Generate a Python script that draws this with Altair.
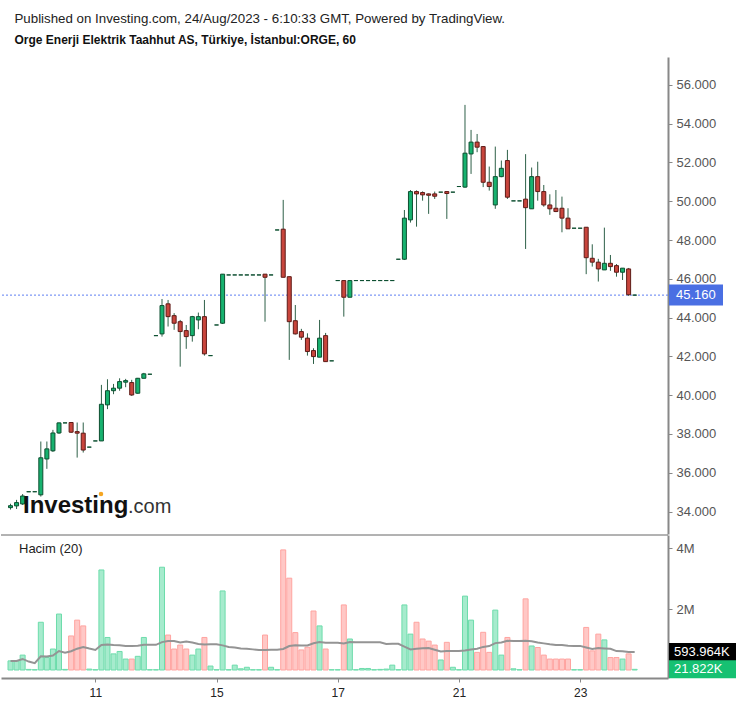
import altair as alt
import pandas as pd

# ---------------- data ----------------
opens = [34.20, 34.29, 34.39, 35.02,
         35.02, 34.86, 36.71, 37.13, 38.05, 38.57, 38.59, 38.12, 38.04, 37.32,
         37.64, 37.64, 39.50, 40.23, 40.36, 40.67, 40.65, 40.10, 40.87, 41.08,
         43.07, 43.16, 44.71, 44.10, 43.79, 43.33, 43.07, 43.88, 44.05, 42.04,
         43.62, 43.71, 46.20, 46.20, 46.20, 46.20, 46.20, 46.20, 46.24, 46.20,
         48.52, 48.56, 46.11, 43.84, 43.28, 42.94, 42.30, 41.96, 43.07, 41.77,
         45.91, 45.91, 45.05, 45.91, 45.91, 45.91, 45.91, 45.91, 45.91, 45.91,
         47.01, 47.01, 49.04, 50.50, 50.45, 50.38, 50.38, 50.47, 50.50, 50.47,
         50.76, 50.73, 52.44, 53.05, 52.82, 50.98, 49.81, 51.27, 52.10, 50.02,
         50.02, 50.11, 49.61, 51.27, 50.50, 49.81, 49.64, 49.64, 49.13, 48.61,
         48.61, 48.66, 47.06, 46.86, 46.46, 46.80, 46.68, 46.34, 46.51, 45.16]
highs = [34.40, 34.60, 34.90, 35.02,
         35.02, 37.61, 37.61, 38.21, 38.59, 38.57, 38.59, 38.59, 38.59, 37.32,
         37.64, 40.53, 40.82, 40.58, 40.87, 40.84, 40.79, 40.89, 41.15, 41.08,
         43.07, 44.96, 44.91, 44.23, 43.88, 43.62, 44.09, 44.26, 44.91, 42.04,
         43.62, 46.25, 46.20, 46.20, 46.20, 46.20, 46.20, 46.20, 46.24, 46.20,
         48.52, 50.07, 46.11, 44.65, 43.42, 43.19, 42.42, 43.88, 43.21, 41.77,
         45.91, 45.91, 45.91, 45.91, 45.91, 45.91, 45.91, 45.91, 45.91, 45.91,
         47.01, 49.55, 50.58, 50.56, 50.51, 50.40, 50.50, 50.47, 50.50, 50.47,
         50.76, 54.97, 53.68, 53.47, 52.85, 51.79, 52.82, 52.10, 52.65, 50.02,
         50.02, 52.43, 51.74, 52.04, 50.84, 50.36, 50.58, 50.24, 49.64, 48.61,
         48.61, 48.66, 47.78, 47.03, 48.64, 47.23, 46.76, 46.55, 46.56, 45.16]
lows = [34.10, 34.13, 34.34, 35.02,
        35.02, 34.77, 36.20, 37.07, 38.00, 38.57, 38.05, 36.78, 37.04, 37.32,
        37.64, 37.64, 39.28, 40.05, 40.23, 40.41, 39.96, 40.07, 40.87, 41.08,
        43.07, 43.02, 43.54, 43.37, 41.47, 42.39, 42.76, 43.40, 42.04, 42.04,
        43.62, 43.67, 46.20, 46.20, 46.20, 46.20, 46.20, 46.20, 43.79, 46.20,
        48.52, 46.08, 41.82, 43.13, 42.85, 42.04, 41.61, 41.96, 41.73, 41.77,
        45.91, 44.05, 45.05, 45.91, 45.91, 45.91, 45.91, 45.91, 45.91, 45.91,
        47.01, 46.97, 48.90, 48.69, 50.03, 49.35, 50.12, 50.47, 49.09, 50.47,
        50.76, 50.69, 51.41, 52.53, 50.73, 50.55, 49.61, 51.24, 50.12, 50.02,
        50.02, 47.54, 49.61, 50.03, 49.72, 49.30, 49.44, 48.40, 48.58, 48.61,
        48.61, 46.24, 46.63, 45.86, 46.46, 46.41, 46.11, 45.94, 45.12, 45.16]
closes = [34.30, 34.46, 34.80, 35.02,
          35.02, 36.77, 37.23, 38.05, 38.57, 38.57, 38.09, 38.04, 37.17, 37.32,
          37.64, 39.53, 40.23, 40.36, 40.70, 40.75, 40.01, 40.87, 41.10, 41.08,
          43.07, 44.62, 44.05, 43.71, 43.28, 43.02, 44.05, 44.05, 42.13, 42.04,
          43.62, 46.24, 46.20, 46.20, 46.20, 46.20, 46.20, 46.20, 46.08, 46.20,
          48.52, 46.08, 43.79, 43.16, 42.99, 42.25, 41.99, 42.94, 41.73, 41.77,
          45.91, 45.05, 45.91, 45.91, 45.91, 45.91, 45.91, 45.91, 45.91, 45.91,
          47.01, 49.13, 50.50, 50.38, 50.33, 50.31, 50.26, 50.47, 50.40, 50.47,
          50.76, 52.48, 53.05, 52.79, 50.98, 50.76, 51.27, 51.70, 50.21, 50.02,
          50.02, 49.67, 51.27, 50.50, 49.81, 49.61, 49.47, 49.13, 48.58, 48.61,
          48.61, 47.09, 46.86, 46.51, 46.80, 46.63, 46.34, 46.55, 45.18, 45.16]
# volume in millions
volumes = [0.30, 0.30, 0.49, 0.02,
           0.01, 1.57, 0.41, 0.69, 1.84, 0.02, 1.12, 1.64, 1.45, 0.03,
           0.01, 3.29, 1.07, 0.53, 0.61, 0.36, 0.36, 0.45, 1.07, 0.01,
           0.01, 3.38, 1.15, 0.69, 0.82, 0.69, 0.49, 0.69, 1.07, 0.13,
           0.01, 2.60, 0.01, 0.16, 0.04, 0.09, 0.01, 0.01, 1.15, 0.09,
           0.01, 3.95, 3.02, 1.23, 0.66, 0.75, 1.94, 1.45, 0.69, 0.01,
           0.01, 2.14, 1.02, 0.01, 0.05, 0.05, 0.01, 0.02, 0.03, 0.16,
           0.01, 2.14, 1.18, 1.57, 1.02, 0.95, 0.82, 0.33, 0.91, 0.09,
           0.01, 2.43, 1.64, 0.58, 1.24, 0.58, 1.97, 0.49, 1.07, 0.04,
           0.01, 2.34, 0.79, 0.74, 0.49, 0.36, 0.36, 0.36, 0.36, 0.01,
           0.01, 1.40, 0.63, 1.18, 0.99, 0.41, 0.41, 0.36, 0.53, 0.022]

day_tick_index = [14, 34, 54, 74, 94]
day_tick_labels = ["11", "15", "17", "21", "23"]
price_ticks = [34, 36, 38, 40, 42, 44, 46, 48, 50, 52, 54, 56]
volume_ticks = [2, 4]
last_price = 45.16
last_price_label = "45.160"
last_ma = 0.594
last_ma_label = "593.964K"
last_volume = 0.022
last_volume_label = "21.822K"

title_line1 = "Published on Investing.com, 24/Aug/2023 - 6:10:33 GMT, Powered by TradingView."
title_line2 = "Orge Enerji Elektrik Taahhut AS, Türkiye, İstanbul:ORGE, 60"

# ---------------- build table ----------------
n = len(closes)
df = pd.DataFrame({
    "i": list(range(n)),
    "open": opens, "high": highs, "low": lows, "close": closes, "vol": volumes,
})

FONT = "Liberation Sans"
W = 667
H_PRICE = 477
H_VOL = 143
X_DOMAIN = [-1.57, 108.5]
UP = "datum.close >= datum.open"

label_expr = " : ".join(
    [f"datum.value == {v} ? '{t}'" for v, t in zip(day_tick_index, day_tick_labels)]
) + " : ''"

x_scale = alt.Scale(domain=X_DOMAIN, nice=False, zero=False, padding=0)
x_hidden = alt.X("i:Q", scale=x_scale, axis=None)

price_scale = alt.Scale(domain=[32.84, 57.44], nice=False, zero=False, padding=0)
price_axis = alt.Axis(
    orient="right", values=price_ticks, format=".3f", grid=False, title=None,
    labelColor="#555555", labelFontSize=13, labelFont=FONT, tickSize=4,
    tickColor="#888888", domainColor="#888888", domainWidth=2, labelPadding=4,
)

base = alt.Chart(df)

wicks = base.mark_rule(color="#2e6048", strokeWidth=1).encode(
    x=x_hidden,
    y=alt.Y("low:Q", scale=price_scale, axis=price_axis),
    y2="high:Q",
)
bodies = base.mark_bar(size=4, strokeWidth=1).encode(
    x=x_hidden,
    y=alt.Y("open:Q", scale=price_scale),
    y2="close:Q",
    fill=alt.condition(UP, alt.value("#17b26f"), alt.value("#c8453c")),
    stroke=alt.condition(UP, alt.value("#0d4f30"), alt.value("#5e1b17")),
)

last_df = pd.DataFrame({"p": [last_price], "lab": [last_price_label]})
price_line = alt.Chart(last_df).mark_rule(color="#5d7ff2", strokeWidth=1, strokeDash=[2, 2]).encode(
    y=alt.Y("p:Q", scale=price_scale)
)
price_box = alt.Chart(last_df).mark_rule(color="#4a6fe3", strokeWidth=21, strokeCap="butt").encode(
    x=alt.value(W + 1), x2=alt.value(W + 55), y=alt.Y("p:Q", scale=price_scale)
)
price_text = alt.Chart(last_df).mark_text(
    color="white", fontSize=13, font=FONT, align="left", baseline="middle"
).encode(x=alt.value(W + 8), y=alt.Y("p:Q", scale=price_scale), text="lab:N")

wm_df = pd.DataFrame({"a": ["Investing"], "b": [".com"]})
wm1 = alt.Chart(wm_df).mark_text(
    font=FONT, fontSize=24, fontWeight="bold", color="#111111", align="left", baseline="alphabetic"
).encode(x=alt.value(22), y=alt.value(456), text="a:N")
wm2 = alt.Chart(wm_df).mark_text(
    font=FONT, fontSize=20, color="#333333", align="left", baseline="alphabetic"
).encode(x=alt.value(127), y=alt.value(456), text="b:N")
wm_dot = alt.Chart(wm_df).mark_point(
    shape="circle", filled=True, color="#f5a623", size=20, opacity=1
).encode(x=alt.value(100), y=alt.value(437))

price_chart = alt.layer(
    price_line, wicks, bodies, price_box, price_text, wm1, wm2, wm_dot
).properties(width=W, height=H_PRICE)

# ---------------- volume pane ----------------
vol_scale = alt.Scale(domain=[-0.263, 4.44], nice=False, zero=False, padding=0)
vol_axis = alt.Axis(
    orient="right", values=volume_ticks, labelExpr="datum.value + 'M'", grid=False, title=None,
    labelColor="#555555", labelFontSize=13, labelFont=FONT, tickSize=4,
    tickColor="#888888", domainColor="#888888", domainWidth=2, labelPadding=4,
)
x_axis = alt.X(
    "i:Q", scale=x_scale,
    axis=alt.Axis(
        values=day_tick_index, labelExpr=label_expr, grid=False, title=None,
        labelColor="#222222", labelFontSize=12, labelFont=FONT, tickSize=4,
        tickColor="#888888", domainColor="#888888", domainWidth=2, labelPadding=5,
    ),
)

vol_bars = base.mark_bar(size=5, strokeWidth=1).encode(
    x=x_axis,
    y=alt.Y("vol:Q", scale=vol_scale, axis=vol_axis),
    fill=alt.condition(UP, alt.value("#a6ebcd"), alt.value("#ffc8c6")),
    stroke=alt.condition(UP, alt.value("#6ddcab"), alt.value("#ffa4a0")),
)
ma_line = base.transform_window(
    ma="mean(vol)", frame=[-19, 0], sort=[{"field": "i"}]
).mark_line(color="#949494", strokeWidth=2).encode(
    x=alt.X("i:Q", scale=x_scale),
    y=alt.Y("ma:Q", scale=vol_scale),
)

sep = alt.Chart(wm_df).mark_rule(color="#666666", strokeWidth=1).encode(
    x=alt.value(0), x2=alt.value(W), y=alt.value(0)
)
hacim = alt.Chart(pd.DataFrame({"t": ["Hacim (20)"]})).mark_text(
    font=FONT, fontSize=13, color="#222222", align="left", baseline="middle"
).encode(x=alt.value(18), y=alt.value(14), text="t:N")

vlab_df = pd.DataFrame({"v": [last_ma, last_volume], "lab": [last_ma_label, last_volume_label],
                        "k": ["ma", "vol"]})
vol_boxes = alt.Chart(vlab_df).mark_rule(strokeWidth=18, strokeCap="butt").encode(
    x=alt.value(W + 1), x2=alt.value(W + 68), y=alt.Y("v:Q", scale=vol_scale),
    color=alt.condition("datum.k == 'ma'", alt.value("#000000"), alt.value("#16c172")),
)
vol_texts = alt.Chart(vlab_df).mark_text(
    color="white", fontSize=13, font=FONT, align="left", baseline="middle"
).encode(x=alt.value(W + 6), y=alt.Y("v:Q", scale=vol_scale), text="lab:N")

vol_chart = alt.layer(vol_bars, ma_line, sep, hacim, vol_boxes, vol_texts).properties(
    width=W, height=H_VOL
)

chart = alt.vconcat(price_chart, vol_chart, spacing=0).properties(
    title=alt.TitleParams(
        text=title_line1, subtitle=title_line2, anchor="start", font=FONT, fontSize=13.3,
        fontWeight="normal", color="#222222", subtitleFont=FONT, subtitleFontSize=12,
        subtitleFontWeight="bold", subtitleColor="#111111", subtitlePadding=10, offset=11, dx=14,
    ),
    padding={"left": 0, "top": 11, "right": 0, "bottom": 0},
).configure(background="white", view=alt.ViewConfig(stroke=None))

chart.save("out.html", embed_options={"renderer": "svg", "actions": False})
